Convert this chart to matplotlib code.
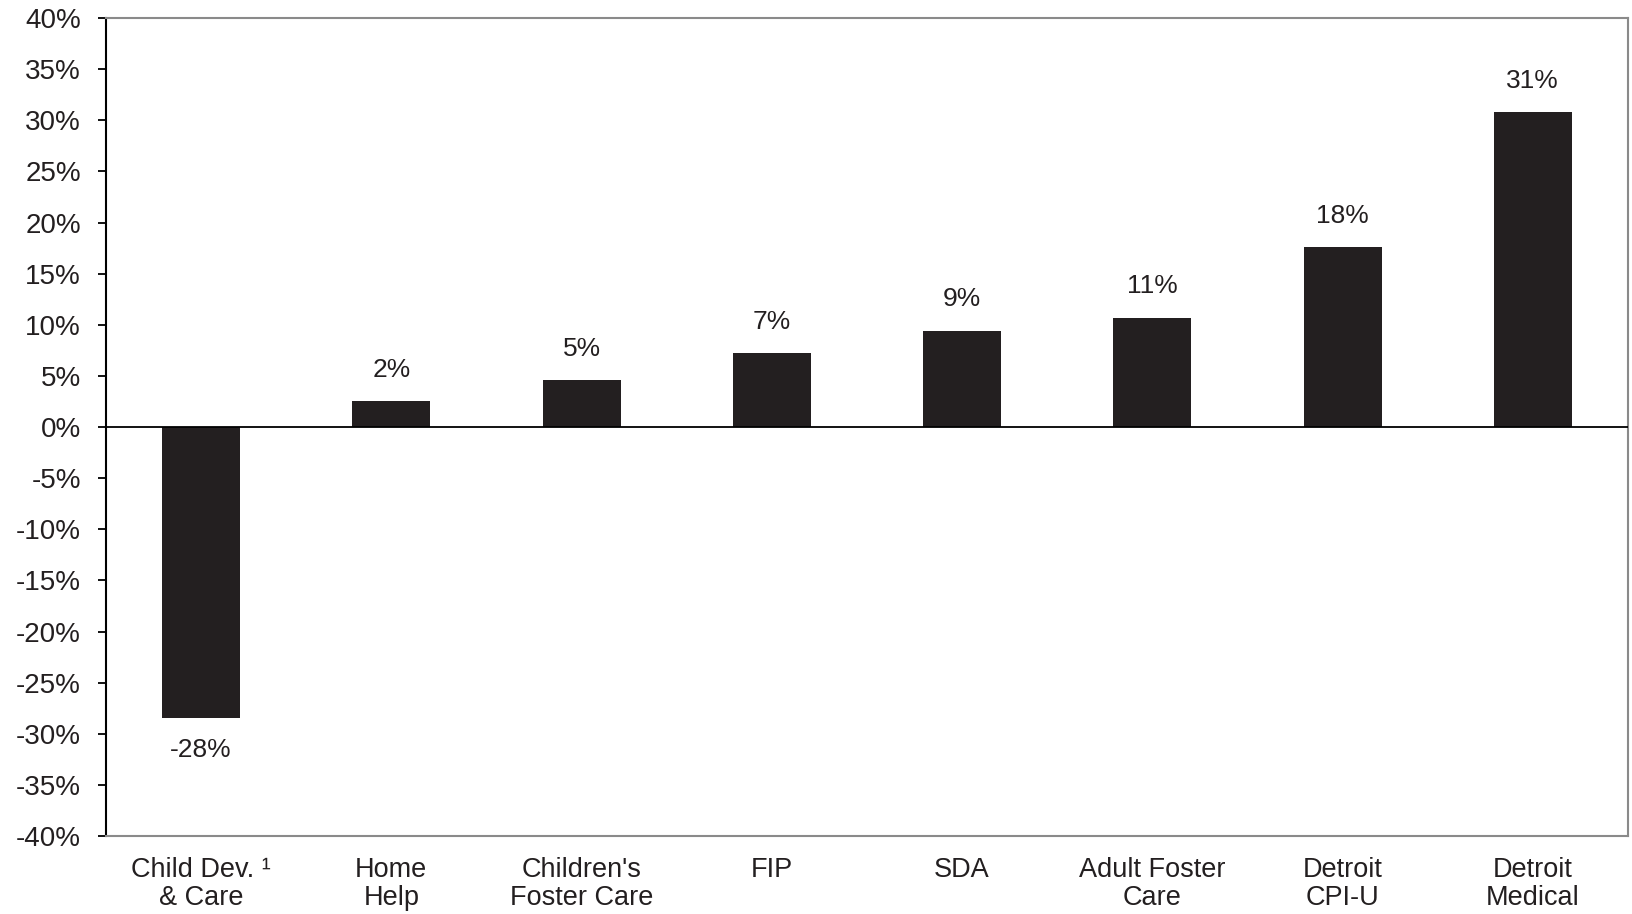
import numpy as np
import matplotlib
matplotlib.use("Agg")
import matplotlib.pyplot as plt

plt.rcParams['font.family'] = ['Liberation Sans', 'DejaVu Sans']

# categorias e variacao percentual
categorias = ["Child Dev. \u00b9\n& Care", "Home\nHelp", "Children's\nFoster Care", "FIP",
              "SDA", "Adult Foster\nCare", "Detroit\nCPI-U", "Detroit\nMedical"]
valores = [-28.5, 2.5, 4.6, 7.2, 9.4, 10.7, 17.6, 30.8]
rotulos = ["-28%", "2%", "5%", "7%", "9%", "11%", "18%", "31%"]
yticks = list(range(-40, 45, 5))

cor_barra = "#231f20"
cor_texto = "#231f20"

fig = plt.figure(figsize=(16.33, 9.14), dpi=100)
ax = fig.add_axes([0.0649, 0.0853, 0.932, 0.895])

x = np.arange(len(categorias))
ax.bar(x, valores, width=0.41, color=cor_barra, zorder=2)
ax.axhline(0, color="black", linewidth=1.3, zorder=3)

# rotulos das barras
for xi, v, r in zip(x, valores, rotulos):
    off = 14 if v >= 0 else -14
    ax.annotate(r, (xi, v), xytext=(0, off), textcoords="offset points",
                ha="center", va="bottom" if v >= 0 else "top",
                fontsize=19, color=cor_texto)

ax.set_xlim(-0.5, len(categorias) - 0.5)
ax.set_ylim(-40, 40)
ax.set_yticks(yticks)
ax.set_yticklabels(["%d%%" % t for t in yticks])
ax.set_xticks(x)
ax.set_xticklabels(categorias, linespacing=1.1)

ax.tick_params(axis="y", length=6, width=1.3, pad=12, labelsize=20, labelcolor=cor_texto)
ax.tick_params(axis="x", length=0, pad=15, labelsize=19.5, labelcolor=cor_texto)

for lado in ["top", "right", "bottom"]:
    ax.spines[lado].set_color("#8a8a8a")
    ax.spines[lado].set_linewidth(1.5)
ax.spines["left"].set_color("black")
ax.spines["left"].set_linewidth(1.5)

fig.savefig("out.png", dpi=100)
